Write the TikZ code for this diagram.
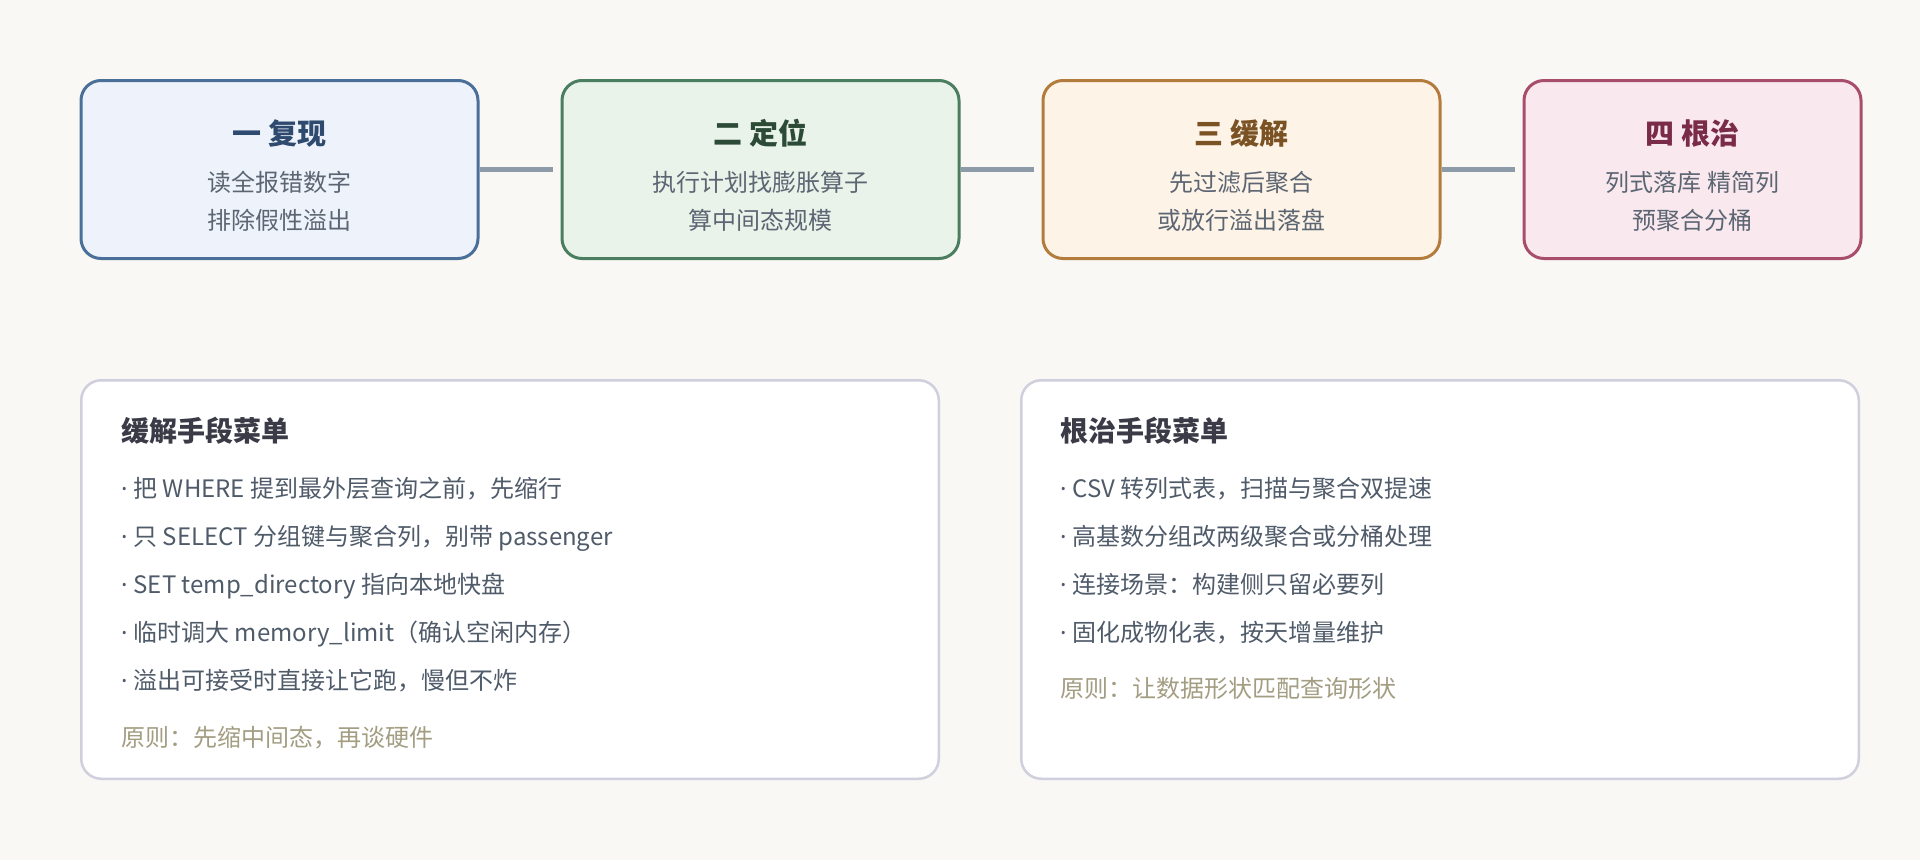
\documentclass[tikz,border=0pt]{standalone}
\usepackage{fontspec}
\setmainfont{Noto Sans CJK SC}
\newfontfamily\dotfont{Noto Sans}
\usetikzlibrary{positioning}

\definecolor{pagebg}{HTML}{F9F8F4}
\definecolor{oneline}{HTML}{4A6F98}
\definecolor{onefill}{HTML}{EEF2FA}
\definecolor{onetext}{HTML}{2E4A6E}
\definecolor{twoline}{HTML}{4B7D60}
\definecolor{twofill}{HTML}{E9F3EA}
\definecolor{twotext}{HTML}{2D4A37}
\definecolor{threeline}{HTML}{B47C3C}
\definecolor{threefill}{HTML}{FDF3E7}
\definecolor{threetext}{HTML}{7B5224}
\definecolor{fourline}{HTML}{A84E6C}
\definecolor{fourfill}{HTML}{F9E8EE}
\definecolor{fourtext}{HTML}{7A2B48}
\definecolor{subgray}{HTML}{5C6673}
\definecolor{linkgray}{HTML}{8D9BA8}
\definecolor{panelline}{HTML}{CFCFDD}
\definecolor{headgray}{HTML}{3B3B48}
\definecolor{itemgray}{HTML}{505B6A}
\definecolor{notegray}{HTML}{A39D82}

\newcommand\stagefont{\fontsize{29pt}{34pt}\selectfont\bfseries}
\newcommand\subfont{\fontsize{24pt}{28pt}\selectfont}
\newcommand\bulletdot{{\dotfont ·}\hspace{6pt}}

\tikzset{
  subline/.style={font=\subfont, text=subgray, anchor=base, inner sep=0pt},
  menuhead/.style={font=\fontsize{28pt}{32pt}\selectfont\bfseries, text=headgray, anchor=base west, inner sep=0pt},
  menuitem/.style={font=\subfont, text=itemgray, anchor=base west, inner sep=0pt},
  menunote/.style={font=\subfont, text=notegray, anchor=base west, inner sep=0pt}
}

\begin{document}
\begin{tikzpicture}[x=1pt, y=-1pt, node distance=81pt]
  \useasboundingbox[fill=pagebg] (0,0) rectangle (1920,860);
  % the four stages
  \begin{scope}[every node/.style={draw, rounded corners=20pt, line width=3pt, minimum width=397pt, minimum height=178pt}]
    \node (one)[draw=oneline, fill=onefill] at (279.5,169.5) {};
    \node (two)[draw=twoline, fill=twofill] [right=of one] {};
    \node (three)[draw=threeline, fill=threefill] [right=of two] {};
    \node (four)[draw=fourline, fill=fourfill, minimum width=337pt] [right=of three] {};
  \end{scope}
  \begin{scope}[every edge/.style={draw=linkgray, line width=5pt, shorten >=8pt}]
    \path (one) edge (two);
    \path (two) edge (three);
    \path (three) edge (four);
  \end{scope}
  \begin{scope}[every node/.style={font=\stagefont, anchor=base, inner sep=0pt}]
    \node (one-t)[text=onetext] at ([yshift=25.5pt]one.center) {一 复现};
    \node (two-t)[text=twotext] at ([yshift=25.5pt]two.center) {二 定位};
    \node (three-t)[text=threetext] at ([yshift=25.5pt]three.center) {三 缓解};
    \node (four-t)[text=fourtext] at ([yshift=25.5pt]four.center) {四 根治};
  \end{scope}
  \node (one-a)[subline] at ([yshift=-21.5pt]one.center) {读全报错数字};
  \node (one-b)[subline] at ([yshift=-59.5pt]one.center) {排除假性溢出};
  \node (two-a)[subline] at ([yshift=-21.5pt]two.center) {执行计划找膨胀算子};
  \node (two-b)[subline] at ([yshift=-59.5pt]two.center) {算中间态规模};
  \node (three-a)[subline] at ([yshift=-21.5pt]three.center) {先过滤后聚合};
  \node (three-b)[subline] at ([yshift=-59.5pt]three.center) {或放行溢出落盘};
  \node (four-a)[subline] at ([yshift=-21.5pt]four.center) {列式落库 精简列};
  \node (four-b)[subline] at ([yshift=-59.5pt]four.center) {预聚合分桶};

  % the two menus
  \begin{scope}[every node/.style={draw=panelline, fill=white, line width=2.5pt, rounded corners=20pt, minimum height=398.5pt}]
    \node (mit)[minimum width=857.5pt] at (510,579.5) {};
    \node (cure)[minimum width=837.5pt] at (1440,579.5) {};
  \end{scope}
  \node (mit-t)[menuhead] at (121,441) {缓解手段菜单};
  \foreach \txt [count=\i] in {{把 WHERE 提到最外层查询之前，先缩行},
      {只 SELECT 分组键与聚合列，别带 passenger},
      {SET temp\_directory 指向本地快盘},
      {临时调大 memory\_limit（确认空闲内存）},
      {溢出可接受时直接让它跑，慢但不炸}}
    \node (mit-\i)[menuitem] at (121,449+48*\i) {\bulletdot\txt};
  \node (mit-n)[menunote] at (121,746) {原则：先缩中间态，再谈硬件};

  \node (cure-t)[menuhead] at (1060,441) {根治手段菜单};
  \foreach \txt [count=\i] in {{CSV 转列式表，扫描与聚合双提速},
      {高基数分组改两级聚合或分桶处理},
      {连接场景：构建侧只留必要列},
      {固化成物化表，按天增量维护}}
    \node (cure-\i)[menuitem] at (1060,449+48*\i) {\bulletdot\txt};
  \node (cure-n)[menunote] at (1060,697) {原则：让数据形状匹配查询形状};
\end{tikzpicture}
\end{document}
